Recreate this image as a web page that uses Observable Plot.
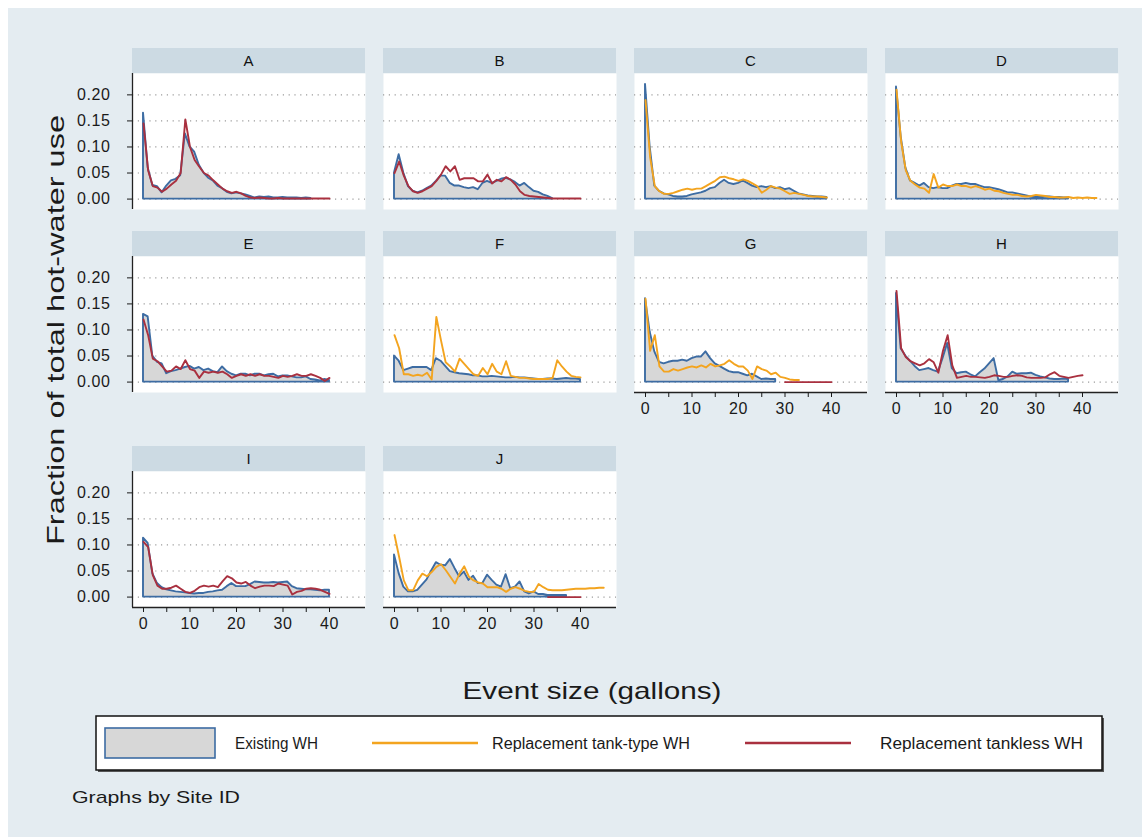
<!DOCTYPE html>
<html>
<head>
<meta charset="utf-8">
<script src="https://cdn.jsdelivr.net/npm/d3@7"></script>
<script src="https://cdn.jsdelivr.net/npm/@observablehq/plot@0.6"></script>
<style>
  html, body { margin: 0; padding: 0; background: #fff; }
  #page { position: relative; width: 1142px; height: 837px; overflow: hidden; font-family: "Liberation Sans", Arial, sans-serif; }
  #region { position: absolute; left: 8px; top: 8px; width: 1134px; height: 829px; background: #e4ecf1; }
  .strip { position: absolute; height: 25px; line-height: 25px; background: #ccdae3; text-align: center; font-size: 15px; color: #111; }
  .panel { position: absolute; }
  #overlay { position: absolute; left: 0; top: 0; }
</style>
</head>
<body>
<div id="page"><div id="region"></div></div>
<script>
// Share of total hot-water use by event size (1-gallon bins starting at 0 gallons)
const siteIds = ["A", "B", "C", "D", "E", "F", "G", "H", "I", "J"];
const seriesNames = ["Existing WH", "Replacement tank-type WH", "Replacement tankless WH"];

const xTicks = [0, 5, 10, 15, 20, 25, 30, 35, 40];
const yTicks = [0, 0.05, 0.10, 0.15, 0.20];
const yTickLabels = ["0.00", "0.05", "0.10", "0.15", "0.20"];

const siteA_existing = [0.165, 0.060, 0.026, 0.024, 0.012, 0.025, 0.035, 0.038, 0.045, 0.125, 0.100, 0.090, 0.065, 0.050, 0.040, 0.035, 0.025, 0.020, 0.013, 0.010, 0.012, 0.010, 0.008, 0.005, 0.002, 0.004, 0.003, 0.004, 0.002, 0.002, 0.003, 0.002, 0.002, 0.002, 0.001, 0.002, 0.001];
const siteA_tankless = [0.145, 0.055, 0.025, 0.022, 0.014, 0.020, 0.028, 0.035, 0.050, 0.153, 0.100, 0.075, 0.062, 0.050, 0.045, 0.036, 0.028, 0.020, 0.015, 0.012, 0.014, 0.011, 0.006, 0.003, 0.002, 0.003, 0.002, 0.001, 0.001, 0.002, 0.001, 0.001, 0.001, 0.001, 0.001, 0.001, 0.001, 0.001, 0.001, 0.001, 0.001];

const siteB_existing = [0.050, 0.085, 0.050, 0.024, 0.015, 0.012, 0.015, 0.020, 0.025, 0.034, 0.044, 0.044, 0.030, 0.025, 0.025, 0.022, 0.020, 0.022, 0.018, 0.030, 0.034, 0.030, 0.034, 0.038, 0.040, 0.037, 0.032, 0.025, 0.030, 0.022, 0.015, 0.013, 0.008, 0.005, 0.001];
const siteB_tankless = [0.050, 0.072, 0.045, 0.025, 0.015, 0.012, 0.015, 0.020, 0.025, 0.035, 0.047, 0.063, 0.053, 0.063, 0.037, 0.040, 0.040, 0.040, 0.034, 0.034, 0.047, 0.030, 0.037, 0.034, 0.042, 0.037, 0.028, 0.015, 0.008, 0.006, 0.005, 0.004, 0.003, 0.002, 0.001, 0.001, 0.001, 0.001, 0.001, 0.001, 0.001];

const siteC_existing = [0.220, 0.100, 0.025, 0.015, 0.010, 0.008, 0.005, 0.004, 0.004, 0.005, 0.008, 0.010, 0.012, 0.015, 0.020, 0.022, 0.030, 0.036, 0.030, 0.028, 0.030, 0.035, 0.030, 0.025, 0.022, 0.024, 0.022, 0.024, 0.020, 0.022, 0.018, 0.020, 0.015, 0.010, 0.008, 0.006, 0.005, 0.004, 0.004, 0.003];
const siteC_tanktype = [0.190, 0.080, 0.025, 0.015, 0.010, 0.010, 0.012, 0.015, 0.018, 0.020, 0.018, 0.020, 0.020, 0.025, 0.030, 0.035, 0.042, 0.043, 0.040, 0.038, 0.035, 0.038, 0.035, 0.030, 0.025, 0.012, 0.018, 0.025, 0.022, 0.020, 0.015, 0.010, 0.012, 0.010, 0.008, 0.006, 0.005, 0.005, 0.004, 0.003];

const siteD_existing = [0.215, 0.120, 0.060, 0.035, 0.030, 0.025, 0.030, 0.022, 0.020, 0.022, 0.020, 0.020, 0.025, 0.028, 0.028, 0.030, 0.028, 0.028, 0.025, 0.022, 0.022, 0.020, 0.018, 0.015, 0.012, 0.012, 0.010, 0.008, 0.006, 0.004, 0.003, 0.003, 0.004, 0.004, 0.003, 0.003, 0.002, 0.002];
const siteD_tanktype = [0.210, 0.110, 0.055, 0.035, 0.028, 0.022, 0.020, 0.012, 0.048, 0.022, 0.028, 0.025, 0.025, 0.028, 0.025, 0.025, 0.022, 0.025, 0.022, 0.018, 0.020, 0.016, 0.015, 0.012, 0.010, 0.008, 0.008, 0.006, 0.005, 0.006, 0.008, 0.007, 0.006, 0.004, 0.004, 0.003, 0.003, 0.004, 0.002, 0.003, 0.002, 0.003, 0.002, 0.002];

const siteE_existing = [0.130, 0.125, 0.050, 0.038, 0.035, 0.016, 0.020, 0.022, 0.025, 0.028, 0.030, 0.025, 0.028, 0.022, 0.025, 0.020, 0.018, 0.029, 0.020, 0.015, 0.012, 0.015, 0.015, 0.012, 0.015, 0.015, 0.012, 0.014, 0.015, 0.010, 0.012, 0.012, 0.010, 0.008, 0.008, 0.010, 0.005, 0.004, 0.002, 0.005, 0.003];
const siteE_tankless = [0.120, 0.090, 0.045, 0.040, 0.030, 0.020, 0.022, 0.030, 0.025, 0.042, 0.025, 0.022, 0.008, 0.020, 0.018, 0.020, 0.018, 0.020, 0.015, 0.008, 0.012, 0.015, 0.012, 0.015, 0.012, 0.015, 0.012, 0.012, 0.010, 0.008, 0.012, 0.010, 0.012, 0.015, 0.012, 0.012, 0.015, 0.012, 0.008, 0.002, 0.008];

const siteF_existing = [0.050, 0.040, 0.022, 0.025, 0.028, 0.028, 0.028, 0.028, 0.022, 0.045, 0.040, 0.030, 0.020, 0.018, 0.016, 0.015, 0.014, 0.012, 0.012, 0.010, 0.010, 0.011, 0.010, 0.009, 0.008, 0.008, 0.009, 0.008, 0.008, 0.007, 0.006, 0.005, 0.005, 0.006, 0.006, 0.005, 0.006, 0.007, 0.006, 0.006, 0.005];
const siteF_tanktype = [0.090, 0.065, 0.015, 0.015, 0.012, 0.014, 0.012, 0.018, 0.005, 0.125, 0.080, 0.038, 0.030, 0.020, 0.045, 0.035, 0.025, 0.015, 0.012, 0.027, 0.015, 0.035, 0.020, 0.015, 0.040, 0.012, 0.010, 0.008, 0.008, 0.007, 0.006, 0.006, 0.006, 0.006, 0.008, 0.042, 0.030, 0.020, 0.012, 0.010, 0.009];

const siteG_existing = [0.160, 0.096, 0.058, 0.038, 0.035, 0.038, 0.040, 0.040, 0.042, 0.040, 0.045, 0.048, 0.048, 0.058, 0.045, 0.035, 0.030, 0.025, 0.020, 0.018, 0.018, 0.015, 0.012, 0.015, 0.010, 0.005, 0.006, 0.005, 0.005];
const siteG_tanktype = [0.160, 0.060, 0.090, 0.030, 0.020, 0.020, 0.025, 0.022, 0.025, 0.028, 0.030, 0.028, 0.032, 0.028, 0.035, 0.030, 0.032, 0.035, 0.042, 0.035, 0.030, 0.030, 0.022, 0.006, 0.030, 0.025, 0.022, 0.015, 0.018, 0.010, 0.008, 0.005, 0.004, 0.004];
const siteG_tankless = [0, 0, 0, 0, 0, 0, 0, 0, 0, 0, 0];
const siteG_tanklessFrom = 30;

const siteH_existing = [0.170, 0.064, 0.050, 0.040, 0.030, 0.022, 0.024, 0.026, 0.022, 0.019, 0.045, 0.074, 0.026, 0.016, 0.018, 0.019, 0.014, 0.010, 0.018, 0.025, 0.035, 0.045, 0.003, 0.005, 0.010, 0.019, 0.015, 0.016, 0.016, 0.017, 0.013, 0.010, 0.008, 0.006, 0.005, 0.005, 0.006, 0.005];
const siteH_tankless = [0.175, 0.065, 0.048, 0.040, 0.036, 0.032, 0.036, 0.044, 0.038, 0.018, 0.060, 0.090, 0.032, 0.008, 0.010, 0.012, 0.010, 0.010, 0.009, 0.008, 0.010, 0.013, 0.012, 0.010, 0.010, 0.012, 0.013, 0.012, 0.009, 0.008, 0.008, 0.008, 0.009, 0.015, 0.019, 0.012, 0.010, 0.008, 0.010, 0.012, 0.013];

const siteI_existing = [0.113, 0.103, 0.045, 0.026, 0.018, 0.014, 0.012, 0.010, 0.009, 0.008, 0.007, 0.006, 0.007, 0.007, 0.009, 0.010, 0.012, 0.013, 0.020, 0.026, 0.020, 0.020, 0.020, 0.024, 0.029, 0.028, 0.027, 0.027, 0.028, 0.027, 0.028, 0.029, 0.020, 0.016, 0.015, 0.014, 0.014, 0.013, 0.012, 0.013, 0.013];
const siteI_tankless = [0.106, 0.096, 0.042, 0.022, 0.016, 0.016, 0.018, 0.022, 0.016, 0.010, 0.008, 0.012, 0.019, 0.022, 0.020, 0.022, 0.019, 0.030, 0.040, 0.036, 0.028, 0.026, 0.029, 0.022, 0.017, 0.020, 0.022, 0.022, 0.021, 0.026, 0.024, 0.022, 0.005, 0.010, 0.012, 0.016, 0.017, 0.016, 0.014, 0.010, 0.006];

const siteJ_existing = [0.081, 0.045, 0.019, 0.010, 0.010, 0.013, 0.023, 0.033, 0.050, 0.066, 0.061, 0.060, 0.072, 0.055, 0.039, 0.048, 0.032, 0.040, 0.026, 0.026, 0.042, 0.032, 0.023, 0.019, 0.043, 0.016, 0.019, 0.029, 0.010, 0.006, 0.010, 0.005, 0.005, 0.003, 0.003, 0.003, 0.003, 0.003];
const siteJ_tanktype = [0.119, 0.077, 0.032, 0.013, 0.013, 0.032, 0.045, 0.040, 0.048, 0.058, 0.063, 0.052, 0.039, 0.026, 0.045, 0.059, 0.039, 0.032, 0.028, 0.026, 0.019, 0.019, 0.019, 0.016, 0.010, 0.016, 0.019, 0.016, 0.012, 0.010, 0.010, 0.025, 0.019, 0.014, 0.013, 0.013, 0.013, 0.014, 0.015, 0.016, 0.016, 0.016, 0.017, 0.017, 0.018, 0.018];
const siteJ_tankless = [0, 0, 0, 0, 0, 0, 0, 0];
const siteJ_tanklessFrom = 33;

// Lookup of each site's series (values indexed by gallon bin)
const existingBySite = {A: siteA_existing, B: siteB_existing, C: siteC_existing, D: siteD_existing, E: siteE_existing,
  F: siteF_existing, G: siteG_existing, H: siteH_existing, I: siteI_existing, J: siteJ_existing};
const tankTypeBySite = {C: siteC_tanktype, D: siteD_tanktype, F: siteF_tanktype, G: siteG_tanktype, J: siteJ_tanktype};
const tanklessBySite = {A: siteA_tankless, B: siteB_tankless, E: siteE_tankless, G: siteG_tankless, H: siteH_tankless,
  I: siteI_tankless, J: siteJ_tankless};
const tanklessFrom = {G: siteG_tanklessFrom, J: siteJ_tanklessFrom};

const toPoints = (values, from = 0) => values.map((v, i) => ({gallons: from + i, fraction: v}));

// Styling and layout
const blue = "#3d6ca3", orange = "#f3a41f", red = "#a9303f", areaFill = "#d7d7d7", axisColor = "#222";
const lineW = 1.9;
const colLeft = [132, 383, 634, 885];
const rowTop = [73, 256, 471];
const plotW = 233, plotH = 136, stripH = 25;
const mL = 64, mR = 4, mB = 40;
const pxPerGallon = 4.65;
const xDomain = [-11 / pxPerGallon, (plotW - 11) / pxPerGallon];
const yDomain = [-0.02, 0.241];

const page = document.getElementById("page");

siteIds.forEach((id, i) => {
  const row = Math.floor(i / 4), col = i % 4;
  const hasX = i + 4 >= siteIds.length;
  const hasY = col === 0;

  const marks = [
    Plot.frame({fill: "white", stroke: "none"}),
    Plot.ruleY(yTicks, {stroke: "#9c9c9c", strokeWidth: 1.2, strokeDasharray: "1.2,4.6"}),
    Plot.areaY(toPoints(existingBySite[id]), {x: "gallons", y: "fraction", fill: areaFill, stroke: blue,
      strokeWidth: lineW, strokeLinejoin: "round"})
  ];
  if (tankTypeBySite[id]) {
    marks.push(Plot.lineY(toPoints(tankTypeBySite[id]), {x: "gallons", y: "fraction", stroke: orange,
      strokeWidth: lineW, strokeLinejoin: "round"}));
  }
  if (tanklessBySite[id]) {
    marks.push(Plot.lineY(toPoints(tanklessBySite[id], tanklessFrom[id] || 0), {x: "gallons", y: "fraction",
      stroke: red, strokeWidth: lineW, strokeLinejoin: "round"}));
  }
  if (hasY) {
    marks.push(
      Plot.ruleX([xDomain[0]], {stroke: axisColor, strokeWidth: 1.3}),
      Plot.axisY(yTicks, {tickSize: 5, tickPadding: 17, label: null, fontSize: 16,
        tickFormat: d => yTickLabels[yTicks.indexOf(d)]})
    );
  }
  if (hasX) {
    marks.push(
      Plot.ruleY([yDomain[0]], {stroke: axisColor, strokeWidth: 1.3}),
      Plot.axisX(xTicks, {tickSize: 5, tickPadding: 5, label: null, fontSize: 16,
        tickFormat: d => (d % 10 === 0 ? String(d) : "")})
    );
  }

  const chart = Plot.plot({
    width: plotW + mL + mR,
    height: plotH + mB,
    marginLeft: mL, marginRight: mR, marginTop: 0, marginBottom: mB,
    x: {domain: xDomain, ...(hasX ? {} : {axis: null})},
    y: {domain: yDomain, ...(hasY ? {} : {axis: null})},
    style: {background: "none", overflow: "visible", fontFamily: "\"Liberation Sans\", Arial, sans-serif",
      fontSize: "16px", color: "#1a1a1a", letterSpacing: "0.6px"},
    marks
  });
  chart.classList.add("panel");
  chart.style.left = (colLeft[col] - mL) + "px";
  chart.style.top = rowTop[row] + "px";
  page.appendChild(chart);

  const strip = document.createElement("div");
  strip.className = "strip";
  strip.style.left = colLeft[col] + "px";
  strip.style.top = (rowTop[row] - stripH) + "px";
  strip.style.width = plotW + "px";
  strip.textContent = id;
  page.appendChild(strip);
});

// Axis titles, legend and note
const svg = d3.select(page).append("svg")
  .attr("id", "overlay").attr("width", 1142).attr("height", 837)
  .style("font-family", "\"Liberation Sans\", Arial, sans-serif").style("pointer-events", "none");

svg.append("text").attr("x", 592).attr("y", 699).attr("text-anchor", "middle")
  .attr("font-size", 24).attr("fill", "#1a1a1a")
  .attr("textLength", 259).attr("lengthAdjust", "spacingAndGlyphs")
  .text("Event size (gallons)");

svg.append("text").attr("transform", "translate(64,330) rotate(-90)").attr("text-anchor", "middle")
  .attr("font-size", 24).attr("fill", "#1a1a1a")
  .attr("textLength", 430).attr("lengthAdjust", "spacingAndGlyphs")
  .text("Fraction of total hot-water use");

const legend = svg.append("g");
legend.append("rect").attr("x", 98).attr("y", 718).attr("width", 1006).attr("height", 54).attr("fill", "#555");
legend.append("rect").attr("x", 96).attr("y", 716).attr("width", 1006).attr("height", 54)
  .attr("fill", "white").attr("stroke", "#111").attr("stroke-width", 1.5);
legend.append("rect").attr("x", 105).attr("y", 728).attr("width", 110).attr("height", 30)
  .attr("fill", areaFill).attr("stroke", blue).attr("stroke-width", 1.6);
legend.append("line").attr("x1", 372).attr("x2", 478).attr("y1", 743).attr("y2", 743)
  .attr("stroke", orange).attr("stroke-width", 2.4);
legend.append("line").attr("x1", 745).attr("x2", 851).attr("y1", 743).attr("y2", 743)
  .attr("stroke", red).attr("stroke-width", 2.4);
const legendText = [[235, 83], [492, 198], [880, 203]];
seriesNames.forEach((name, k) => {
  legend.append("text").attr("x", legendText[k][0]).attr("y", 749).attr("font-size", 16).attr("fill", "#1a1a1a")
    .attr("textLength", legendText[k][1]).attr("lengthAdjust", "spacingAndGlyphs").text(name);
});

svg.append("text").attr("x", 72).attr("y", 803).attr("font-size", 17).attr("fill", "#1a1a1a")
  .attr("textLength", 168).attr("lengthAdjust", "spacingAndGlyphs")
  .text("Graphs by Site ID");
</script>
</body>
</html>
